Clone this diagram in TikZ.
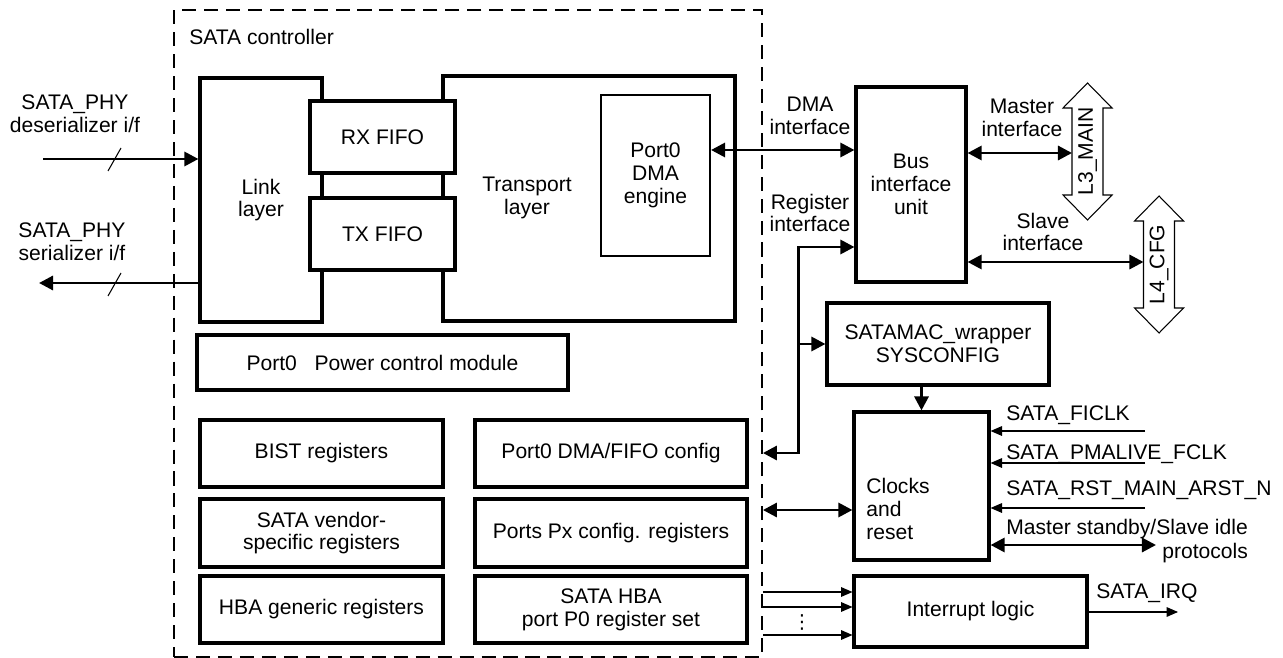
\documentclass[tikz,border=0pt]{standalone}
\usepackage{fontspec}
\setmainfont{Liberation Sans}
\newfontfamily\symfont{DejaVu Sans}
\usetikzlibrary{arrows.meta}

\begin{document}
\begin{tikzpicture}[x=0.02cm, y=-0.02cm,
  font=\fontsize{12}{13}\selectfont,
  blk/.style={draw, line width=1.8pt, fill=white, align=center, inner sep=0pt},
  sub/.style={draw, line width=1.2pt, fill=white, align=center, inner sep=0pt},
  lbl/.style={align=center, inner sep=0pt},
  bus/.style={line width=1.7pt, {Triangle[length=8pt,width=8pt]}-{Triangle[length=8pt,width=8pt]}},
  wire/.style={line width=1.7pt, -{Triangle[length=8pt,width=8pt]}},
  sig/.style={line width=0.6pt, -{Triangle[length=6.5pt,width=5.5pt]}}]
\useasboundingbox (0,0) rectangle (1283,658);
\node[draw, line width=1.1pt, dash pattern=on 8pt off 4.5pt, minimum width=11.76cm, minimum height=12.94cm] (ctrl) at (468,333.5) {};
\node[lbl, anchor=west] (ctrllbl) at (189,37) {SATA controller};
\node[blk, minimum width=5.84cm, minimum height=4.9cm] (trans) at (589,198.5) {};
\node[blk, minimum width=2.44cm, minimum height=4.88cm] (link) at (261,200) {Link\\layer};
\node[blk, minimum width=2.9cm, minimum height=1.44cm] (rxf) at (382.5,137) {RX FIFO};
\node[blk, minimum width=2.9cm, minimum height=1.44cm] (txf) at (382.5,234) {TX FIFO};
\node[lbl] (translbl) at (527,198) {Transport\\layer};
\node[sub, minimum width=2.18cm, minimum height=3.22cm] (dma) at (655.5,175.5) {Port0\\DMA\\engine};
\node[blk, minimum width=7.42cm, minimum height=1.1cm] (pwr) at (382.5,362.5) {Port0~~ Power control module};
\node[blk, minimum width=4.86cm, minimum height=1.34cm] (bist) at (321.5,453.5) {BIST registers};
\node[blk, minimum width=4.86cm, minimum height=1.36cm] (vend) at (321.5,533) {SATA vendor-\\specific registers};
\node[blk, minimum width=4.86cm, minimum height=1.34cm] (hbag) at (321.5,609.5) {HBA generic registers};
\node[blk, minimum width=5.44cm, minimum height=1.34cm] (dmacfg) at (611,453.5) {Port0 DMA/FIFO config};
\node[blk, minimum width=5.44cm, minimum height=1.36cm] (pxcfg) at (611,533) {Ports Px config. registers};
\node[blk, minimum width=5.44cm, minimum height=1.34cm] (p0set) at (611,609.5) {SATA HBA\\port P0 register set};
\node[blk, minimum width=2.2cm, minimum height=3.9cm] (biu) at (911,184.5) {Bus\\interface\\unit};
\node[blk, minimum width=4.44cm, minimum height=1.64cm] (wrap) at (938,344) {SATAMAC\_wrapper\\SYSCONFIG};
\node[blk, minimum width=2.7cm, minimum height=2.96cm] (clk) at (921.5,486) {};
\node[lbl, anchor=west, align=left] (clklbl) at (866,509) {Clocks\\and\\reset};
\node[blk, minimum width=4.66cm, minimum height=1.42cm] (irq) at (970.5,611.5) {Interrupt logic};
\node[lbl] (dmalbl) at (810,116) {DMA\\interface};
\node[lbl] (reglbl) at (810,213) {Register\\interface};
\node[lbl] (mstlbl) at (1022,118) {Master\\interface};
\node[lbl] (slvlbl) at (1043,232) {Slave\\interface};
\node[lbl] (deslbl) at (75,114) {SATA\_PHY\\deserializer i/f};
\node[lbl] (serlbl) at (72,242) {SATA\_PHY\\serializer i/f};
\foreach \cx/\yt/\nm/\txt in {1087.5/83/l3/L3\_MAIN, 1159/196/l4/L4\_CFG} {
\draw[line width=0.6pt, fill=white] (\cx-15.5,\yt+25) -- (\cx-24.5,\yt+25) -- (\cx,\yt) -- (\cx+24.5,\yt+25) -- (\cx+15.5,\yt+25) -- (\cx+15.5,\yt+112) -- (\cx+24.5,\yt+112) -- (\cx,\yt+137) -- (\cx-24.5,\yt+112) -- (\cx-15.5,\yt+112) -- cycle;
\node[lbl, rotate=90] (\nm) at (\cx,\yt+68.5) {\txt};
}
\coordinate (desin) at (43,159);
\coordinate (serout) at (39,283);
\draw[wire] (desin) -- (link.west |- desin);
\draw[wire] (link.west |- serout) -- (serout);
\draw[line width=0.6pt] (108,171) -- (121,148);
\draw[line width=0.6pt] (108,296) -- (121,273);
\draw[bus] (dma.east |- 0,150) -- (biu.west |- 0,150);
\coordinate (regbend) at (798,247);
\draw[bus] (ctrl.east |- 0,453) -| (regbend) -- (biu.west |- regbend);
\draw[wire] (regbend |- wrap.west) -- (wrap.west);
\draw[wire] (wrap.south -| clk.north) -- (clk.north);
\draw[bus] (ctrl.east |- 0,510) -- (clk.west |- 0,510);
\coordinate (l3in) at (1072,153);
\coordinate (l4in) at (1143.5,262);
\draw[bus] (biu.east |- l3in) -- (l3in);
\draw[bus] (biu.east |- l4in) -- (l4in);
\foreach \y/\yb/\nm/\txt in {431/420/ficlk/SATA\_FICLK, 463/459/pmclk/SATA\_PMALIVE\_FCLK, 508/495/rst/SATA\_RST\_MAIN\_ARST\_N} {
\coordinate (\nm) at (1145,\y);
\draw[sig] (\nm) -- (clk.east |- \nm);
\node[lbl, anchor=base west] (\nm lbl) at (1006,\yb) {\txt};
}
\coordinate (mstby) at (1156,545);
\draw[bus] (clk.east |- mstby) -- (mstby);
\node[lbl, anchor=base west] (mstbylbl) at (1006,534) {Master standby/Slave idle};
\node[lbl, anchor=base west] (protolbl) at (1162,558) {protocols};
\foreach \y in {592,607,635} {
\draw[sig] (ctrl.east |- 0,\y) -- (irq.west |- 0,\y);
}
\node[lbl, font=\symfont\fontsize{11}{12}\selectfont] (irqdots) at (802,622) {⋮};
\coordinate (irqout) at (1178,612);
\draw[sig] (irq.east |- irqout) -- (irqout);
\node[lbl, anchor=base west] (irqlbl) at (1096,598) {SATA\_IRQ};
\end{tikzpicture}
\end{document}
